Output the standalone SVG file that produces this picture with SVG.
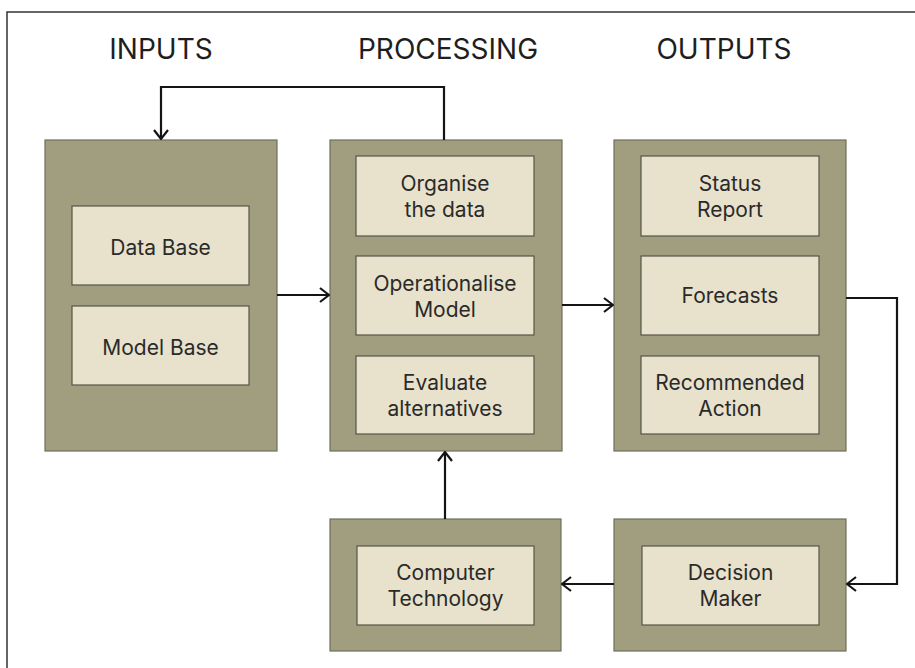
<svg xmlns="http://www.w3.org/2000/svg" width="915" height="668" viewBox="0 0 915 668">
  <defs>
    <style>
      .frame { fill: none; stroke: #333; stroke-width: 1.5; }
      .outer { fill: #a09e7f; stroke: #6f6e5a; stroke-width: 1.2; }
      .inner { fill: #e8e1cb; stroke: #55554a; stroke-width: 1.2; }
      .head { font-family: Inter, "Liberation Sans", sans-serif; font-size: 28px; fill: #1e1e1e; text-anchor: middle; }
      .lbl { font-family: Inter, "Liberation Sans", sans-serif; font-size: 21px; fill: #2a2a2a; text-anchor: middle; }
      .wire { fill: none; stroke: #141414; stroke-width: 2.2; }
    </style>
    <marker id="arrow" viewBox="0 0 12 16" refX="11" refY="8" markerWidth="12" markerHeight="16" markerUnits="userSpaceOnUse" orient="auto">
      <path d="M2,1 L11,8 L2,15" fill="none" stroke="#141414" stroke-width="2.2"/>
    </marker>
  </defs>

  <rect width="915" height="668" fill="#ffffff"/>
  <path class="frame" d="M7,668 V12 H915"/>

  <g id="headings">
    <text class="head" x="161" y="59">INPUTS</text>
    <text class="head" x="448" y="59">PROCESSING</text>
    <text class="head" x="724" y="59">OUTPUTS</text>
  </g>

  <g id="inputs">
    <rect class="outer" x="45" y="140" width="232" height="311"/>
    <g id="data-base">
      <rect class="inner" x="72" y="206" width="177" height="79"/>
      <text class="lbl" x="160.5" y="255">Data Base</text>
    </g>
    <g id="model-base">
      <rect class="inner" x="72" y="306" width="177" height="79"/>
      <text class="lbl" x="160.5" y="355">Model Base</text>
    </g>
  </g>

  <g id="processing">
    <rect class="outer" x="330" y="140" width="232" height="311"/>
    <g id="organise">
      <rect class="inner" x="356" y="156" width="178" height="80"/>
      <text class="lbl" x="445" y="191">Organise</text>
      <text class="lbl" x="445" y="217">the data</text>
    </g>
    <g id="operationalise">
      <rect class="inner" x="356" y="256" width="178" height="79"/>
      <text class="lbl" x="445" y="291">Operationalise</text>
      <text class="lbl" x="445" y="317">Model</text>
    </g>
    <g id="evaluate">
      <rect class="inner" x="356" y="356" width="178" height="78"/>
      <text class="lbl" x="445" y="390">Evaluate</text>
      <text class="lbl" x="445" y="416">alternatives</text>
    </g>
  </g>

  <g id="outputs">
    <rect class="outer" x="614" y="140" width="232" height="311"/>
    <g id="status-report">
      <rect class="inner" x="641" y="156" width="178" height="80"/>
      <text class="lbl" x="730" y="191">Status</text>
      <text class="lbl" x="730" y="217">Report</text>
    </g>
    <g id="forecasts">
      <rect class="inner" x="641" y="256" width="178" height="79"/>
      <text class="lbl" x="730" y="303">Forecasts</text>
    </g>
    <g id="recommended-action">
      <rect class="inner" x="641" y="356" width="178" height="78"/>
      <text class="lbl" x="730" y="390">Recommended</text>
      <text class="lbl" x="730" y="416">Action</text>
    </g>
  </g>

  <g id="computer-technology">
    <rect class="outer" x="330" y="519" width="231" height="132"/>
    <rect class="inner" x="357" y="546" width="177" height="79"/>
    <text class="lbl" x="445.5" y="580">Computer</text>
    <text class="lbl" x="445.5" y="606">Technology</text>
  </g>

  <g id="decision-maker">
    <rect class="outer" x="614" y="519" width="232" height="132"/>
    <rect class="inner" x="642" y="546" width="177" height="79"/>
    <text class="lbl" x="730.5" y="580">Decision</text>
    <text class="lbl" x="730.5" y="606">Maker</text>
  </g>

  <g id="connectors">
    <path class="wire" d="M444,140 V87 H161 V139" marker-end="url(#arrow)"/>
    <path class="wire" d="M277,295 H329" marker-end="url(#arrow)"/>
    <path class="wire" d="M562,305 H613" marker-end="url(#arrow)"/>
    <path class="wire" d="M846,298 H897 V584 H847" marker-end="url(#arrow)"/>
    <path class="wire" d="M614,584 H562" marker-end="url(#arrow)"/>
    <path class="wire" d="M445,519 V452" marker-end="url(#arrow)"/>
  </g>
</svg>
